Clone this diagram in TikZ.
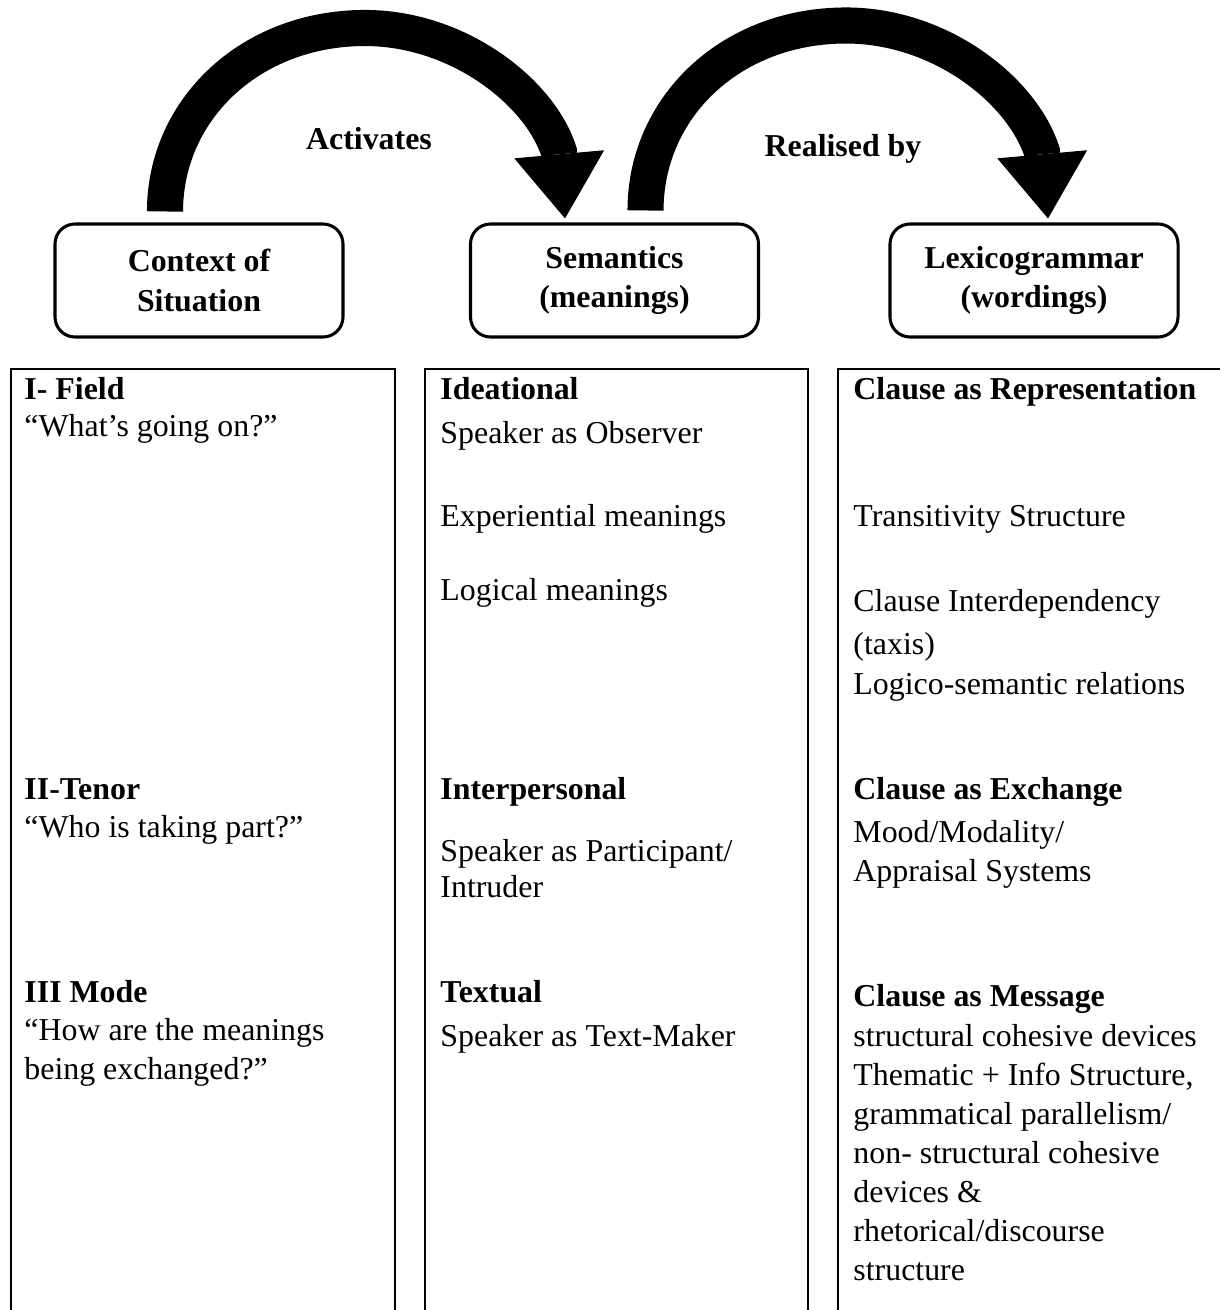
\documentclass[tikz,border=0pt]{standalone}
\usepackage{fontspec}
\setmainfont{Liberation Serif}
\usepackage{tikz}
\usetikzlibrary{arrows.meta,calc}

\begin{document}
\begin{tikzpicture}[x=0.015cm,y=-0.015cm,
  every node/.style={font=\fontsize{13.6}{16.6}\selectfont, inner sep=0pt},
  hdrbox/.style={draw, line width=1.3pt, rounded corners=0.3cm, minimum width=4.32cm, minimum height=1.695cm, align=center, font=\fontsize{13.6}{17}\selectfont\bfseries},
  col/.style={line width=1pt},
  txt/.style={anchor=base west, align=left},
  hd/.style={txt, font=\fontsize{13.6}{16.6}\selectfont\bfseries},
  lbl/.style={anchor=base, font=\fontsize{13.6}{16.6}\selectfont\bfseries},
  bigarrow/.style={line width=15.4pt, -{Triangle[length=27.5pt, width=38.5pt, line width=0pt]}}]
  \useasboundingbox (0,0) rectangle (1220,1310);
  % Header boxes
  \node[hdrbox] (ctx) at (199,280.5) {Context of\\Situation};
  \node[hdrbox] (sem) at (614.5,280.5) {Semantics\\(meanings)};
  \node[hdrbox] (lex) at (1034,280.5) {Lexicogrammar\\(wordings)};
  % Curved arrows
  \draw[bigarrow] ($(ctx.north)+(-34,-11)$) .. controls (165,110) and (250,28) .. (365,28) .. controls (458,28) and (540,92) .. (559,152) -- ($(sem.north)+(-49.5,-4)$);
  \node[lbl] (act) at (369,150) {Activates};
  \draw[bigarrow] ($(sem.north)+(31,-12)$) .. controls (645.5,108) and (730,25.5) .. (846,25.5) .. controls (940,25.5) and (1022,90) .. (1042,152) -- ($(lex.north)+(14,-4)$);
  \node[lbl] (real) at (843,157) {Realised by};
  % Columns
  \draw[col] (11,1310) -- (11,369) -- (395,369) -- (395,1310);
  \draw[col] (425,1310) -- (425,369) -- (808,369) -- (808,1310);
  \draw[col] (838,1310) -- (838,369) -- (1220,369);
  % Context of situation (multi-line nodes sit on their last baseline)
  \node[hd] (field) at (24,400) {I- Field};
  \node[txt] (fieldq) at (24,437) {“What’s going on?”};
  \node[hd] (tenor) at (24,799) {II-Tenor};
  \node[txt] (tenorq) at (24,837) {“Who is taking part?”};
  \node[hd] (mode) at (24,1002) {III Mode};
  \node[txt] (modeq) at (24,1079) {“How are the meanings\\being exchanged?”};
  % Semantics
  \node[hd] (idea) at (440,400) {Ideational};
  \node[txt] (ideaA) at (440,443) {Speaker as Observer};
  \node[txt] (ideaB) at (440,526) {Experiential meanings};
  \node[txt] (ideaC) at (440,600) {Logical meanings};
  \node[hd] (inter) at (440,799) {Interpersonal};
  \node[txt] (interA) at (440,861) {Speaker as Participant/};
  \node[txt] (interB) at (440,897) {Intruder};
  \node[hd] (textual) at (440,1002) {Textual};
  \node[txt] (textualA) at (440,1046) {Speaker as Text-Maker};
  % Lexicogrammar
  \node[hd] (rep) at (853,400) {Clause as Representation};
  \node[txt] (repA) at (853,526) {Transitivity Structure};
  \node[txt] (repB) at (853,611) {Clause Interdependency};
  \node[txt] (repC) at (853,654) {(taxis)};
  \node[txt] (repD) at (853,694) {Logico-semantic relations};
  \node[hd] (exch) at (853,799) {Clause as Exchange};
  \node[txt] (exchA) at (853,881) {Mood/Modality/\\Appraisal Systems};
  \node[hd] (msg) at (853,1006) {Clause as Message};
  \node[txt] (msgA) at (853,1280) {structural cohesive devices\\Thematic + Info Structure,\\grammatical parallelism/\\non- structural cohesive\\devices \&\\rhetorical/discourse\\structure};
\end{tikzpicture}
\end{document}
